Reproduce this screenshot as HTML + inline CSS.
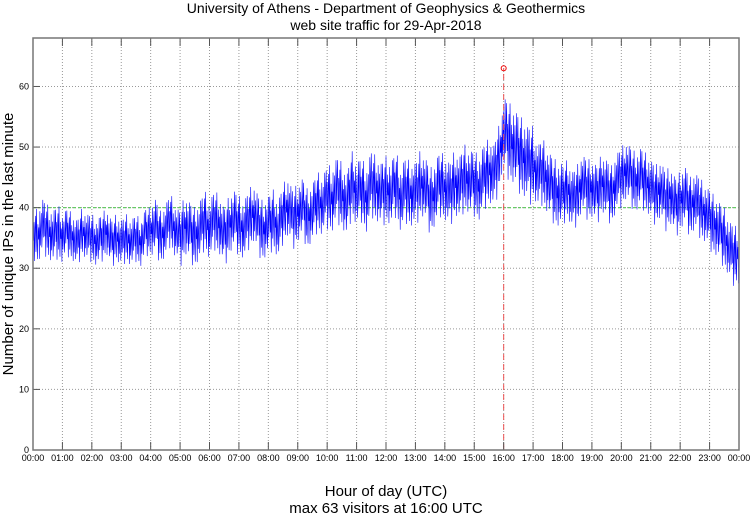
<!DOCTYPE html>
<html><head><meta charset="utf-8"><style>
body{margin:0;background:#fff;}
svg text{font-family:"Liberation Sans",sans-serif;fill:#000;}
</style></head><body>
<svg id="chart" width="750" height="515">
<text x="386" y="13" font-size="14" text-anchor="middle">University of Athens - Department of Geophysics &amp; Geothermics</text>
<text x="386" y="30" font-size="14" text-anchor="middle">web site traffic for 29-Apr-2018</text>
<text x="386" y="496" font-size="15" text-anchor="middle">Hour of day (UTC)</text>
<text x="386" y="513" font-size="15" text-anchor="middle">max 63 visitors at 16:00 UTC</text>
<text transform="translate(13,244) rotate(-90)" font-size="15" text-anchor="middle">Number of unique IPs in the last minute</text>
<g id="grid"></g><g id="series"></g><g id="axes"></g>
</svg>
<script>
const hourLabels=["00:00","01:00","02:00","03:00","04:00","05:00","06:00","07:00","08:00","09:00","10:00","11:00","12:00","13:00","14:00","15:00","16:00","17:00","18:00","19:00","20:00","21:00","22:00","23:00","00:00"];
const yTicks=[0,10,20,30,40,50,60];
const mid10=[36,35,37,36,35,36, 35,36,35,34,36,35, 35,34,35,36,34,35, 34,35,34,35,34,36,
36,37,35,36,38,36, 35,37,36,35,36,38, 36,38,37,35,37,38, 37,36,38,39,37,36,
37,38,36,39,40,38, 39,40,38,39,41,40, 42,41,43,42,40,44, 42,43,41,44,43,42,
43,42,44,41,43,42, 42,44,43,41,42,44, 43,42,44,43,45,44, 44,43,45,46,45,48,
52,51,50,49,48,47, 47,45,46,44,43,42, 42,43,41,42,44,43, 43,42,44,43,42,44,
45,46,45,44,45,44, 43,42,43,41,42,40, 41,42,40,41,40,39, 38,37,36,35,33,32];
const spreadHour=[4.5,4,4,4,4.5,5,5,5,5,5,5.5,5.5,5.5,5.5,5.5,5.5,6.5,5.5,5,5,5,5,5,5];
const noisePattern=[0.9,-0.3,0.4,-1,0.2,0.7,-0.6,1,-0.2,-0.8,0.5,-0.1,0.3,-0.9,0.8,-0.5,0.1,0.6,-0.7,-0.2,0.95,-0.4,0.35];
const refLevel=40;
const maxValue=63, maxHour=16;
const X0=33,X1=739,Y0=450,Y1=38,YMAX=68;
const xs=h=>X0+(X1-X0)*h/24, ys=v=>Y0-(Y0-Y1)*v/YMAX;
const NS="http://www.w3.org/2000/svg";
function mk(t,a,p){const e=document.createElementNS(NS,t);for(const k in a)e.setAttribute(k,a[k]);p.appendChild(e);return e;}
const grid=document.getElementById('grid'),axes=document.getElementById('axes'),ser=document.getElementById('series');
hourLabels.forEach((l,i)=>{const x=xs(i);
 if(i>0&&i<24){const g=mk('line',{x1:x,x2:x,y1:Y1,y2:Y0,stroke:'#999','stroke-dasharray':'1,2','stroke-width':1},grid);
 }
 const tk=mk('line',{x1:x,x2:x,y1:Y0,y2:Y0-8,stroke:'#555'},axes);
 const tk2=mk('line',{x1:x,x2:x,y1:Y1,y2:Y1+8,stroke:'#555'},axes);
 const t=mk('text',{x:x,y:Y0+11,'font-size':9,'text-anchor':'middle',fill:'#222'},axes);t.textContent=l;
 });
yTicks.forEach(v=>{const y=ys(v);
 if(v>0){const g=mk('line',{x1:X0,x2:X1,y1:y,y2:y,stroke:'#999','stroke-dasharray':'1,2'},grid);
 }
 const tk=mk('line',{x1:X0,x2:X0+7,y1:y,y2:y,stroke:'#555'},axes);
 const t=mk('text',{x:X0-4,y:y+3,'font-size':9,'text-anchor':'end',fill:'#222'},axes);t.textContent=v;
 });
const fr=mk('rect',{x:X0,y:Y1,width:X1-X0,height:Y0-Y1,fill:'none',stroke:'#777','stroke-width':1.5},axes);

const ref=mk('line',{x1:X0,x2:X1,y1:ys(refLevel),y2:ys(refLevel),stroke:'#6c6','stroke-dasharray':'3,2','stroke-width':1.2},ser);

let pts=[];
for(let m=0;m<1440;m++){const i=Math.min(143,Math.floor(m/10)),j=Math.min(143,i+1),f=(m%10)/10;
 const base=mid10[i]*(1-f)+mid10[j]*f;const s=spreadHour[Math.floor(m/60)];
 const off=s*noisePattern[m%noisePattern.length];
 pts.push(xs(m/60).toFixed(2)+','+ys(base+off).toFixed(2));}
const pl=mk('polyline',{points:pts.join(' '),fill:'none',stroke:'#00f','stroke-width':0.6},ser);

const ml=mk('line',{x1:xs(maxHour),x2:xs(maxHour),y1:Y0,y2:ys(maxValue),stroke:'#e55','stroke-dasharray':'6,4'},ser);

const mc=mk('circle',{cx:xs(maxHour),cy:ys(maxValue),r:2.5,fill:'none',stroke:'#e00'},ser);

</script>
</body></html>
